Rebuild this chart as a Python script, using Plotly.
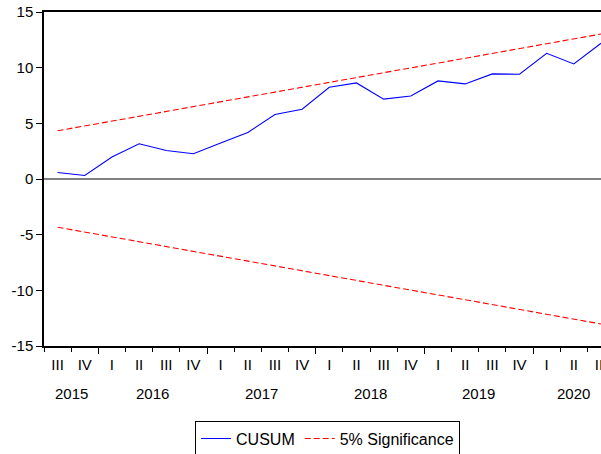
import plotly.graph_objects as go

# ---- data ----
quarters = ["III", "IV",
            "I", "II", "III", "IV",
            "I", "II", "III", "IV",
            "I", "II", "III", "IV",
            "I", "II", "III", "IV",
            "I", "II", "III"]
years = [2015, 2015,
         2016, 2016, 2016, 2016,
         2017, 2017, 2017, 2017,
         2018, 2018, 2018, 2018,
         2019, 2019, 2019, 2019,
         2020, 2020, 2020]
cusum = [0.59, 0.32, 1.97, 3.16, 2.56, 2.27, 3.23, 4.18, 5.79, 6.27, 8.24,
         8.63, 7.17, 7.46, 8.81, 8.54, 9.44, 9.41, 11.29, 10.33, 12.19]
upper = [4.33, 4.76, 5.20, 5.63, 6.07, 6.50, 6.94, 7.37, 7.81, 8.24, 8.68,
         9.11, 9.54, 9.98, 10.41, 10.85, 11.28, 11.72, 12.15, 12.59, 13.02]
lower = [-4.33, -4.76, -5.20, -5.63, -6.07, -6.50, -6.94, -7.37, -7.81, -8.24, -8.68,
         -9.11, -9.54, -9.98, -10.41, -10.85, -11.28, -11.72, -12.15, -12.59, -13.02]
y_ticks = [-15, -10, -5, 0, 5, 10, 15]
y_tick_text = ["-15", "-10", "-5", "0", "5", "10", "15"]

FONT = "Liberation Sans, Arial, sans-serif"
idx = list(range(len(quarters)))

fig = go.Figure()
fig.add_trace(go.Scatter(x=idx, y=cusum, mode="lines", name="CUSUM",
                         line=dict(color="#0000ff", width=1.1)))
fig.add_trace(go.Scatter(x=idx, y=upper, mode="lines", name="5% Significance",
                         line=dict(color="#ff0000", width=1.1, dash="6px,3px")))
fig.add_trace(go.Scatter(x=idx, y=lower, mode="lines", name="5% Significance",
                         showlegend=False,
                         line=dict(color="#ff0000", width=1.1, dash="6px,3px")))

quarter_bounds = [i - 0.5 for i in idx]
year_bounds = [i - 0.5 for i, q in zip(idx, quarters) if q == "I"]
xr = [-0.5, len(idx) - 1]

fig.update_layout(
    width=601, height=454,
    margin=dict(l=44, r=0, t=12, b=108, autoexpand=False),
    paper_bgcolor="white", plot_bgcolor="white",
    font=dict(family=FONT, size=15, color="black"),
    showlegend=True,
    legend=dict(orientation="h", xref="container", yref="container",
                x=0.545, y=0.034, xanchor="center", yanchor="middle",
                bordercolor="black", borderwidth=1, font=dict(size=16),
                bgcolor="white"),
    xaxis=dict(range=xr, tickmode="array", tickvals=quarter_bounds,
               showticklabels=False, ticks="outside", ticklen=4, tickcolor="black",
               showgrid=False, zeroline=False, showline=True, linecolor="black",
               linewidth=1.5, mirror=True, automargin=False),
    xaxis2=dict(range=xr, overlaying="x", matches="x", anchor="y", side="bottom",
                tickmode="array", tickvals=year_bounds, showticklabels=False,
                ticks="outside", ticklen=7, tickcolor="black", automargin=False,
                showgrid=False, zeroline=False, showline=False),
    xaxis3=dict(range=xr, overlaying="x", matches="x", anchor="y", side="bottom",
                tickmode="array", tickvals=idx, ticktext=quarters, ticks="",
                ticklabelstandoff=8, automargin=False, ticklabeloverflow="allow",
                showgrid=False, zeroline=False, showline=False),
    yaxis=dict(range=[-15, 15], tickmode="array", tickvals=y_ticks, ticktext=y_tick_text,
               ticks="outside", ticklen=6, tickcolor="black", showgrid=False,
               zeroline=True, zerolinecolor="#808080", zerolinewidth=2,
               showline=True, linecolor="black", linewidth=1.5, automargin=False),
)

# invisible traces to activate the overlay axes
fig.add_trace(go.Scatter(x=[idx[0]], y=[0], xaxis="x2", mode="markers",
                         marker=dict(opacity=0), showlegend=False, hoverinfo="skip"))
fig.add_trace(go.Scatter(x=[idx[0]], y=[0], xaxis="x3", mode="markers",
                         marker=dict(opacity=0), showlegend=False, hoverinfo="skip"))

# year labels centred under their quarters
for yr in sorted(set(years)):
    pos = [i for i, y in zip(idx, years) if y == yr]
    fig.add_annotation(x=sum(pos) / len(pos), y=-0.1437, xref="x", yref="paper",
                       text=str(yr), showarrow=False, yanchor="middle",
                       font=dict(family=FONT, size=15, color="black"))

fig.write_html("out.html", config={"displayModeBar": False},
               post_script="document.body.style.margin='0';")
